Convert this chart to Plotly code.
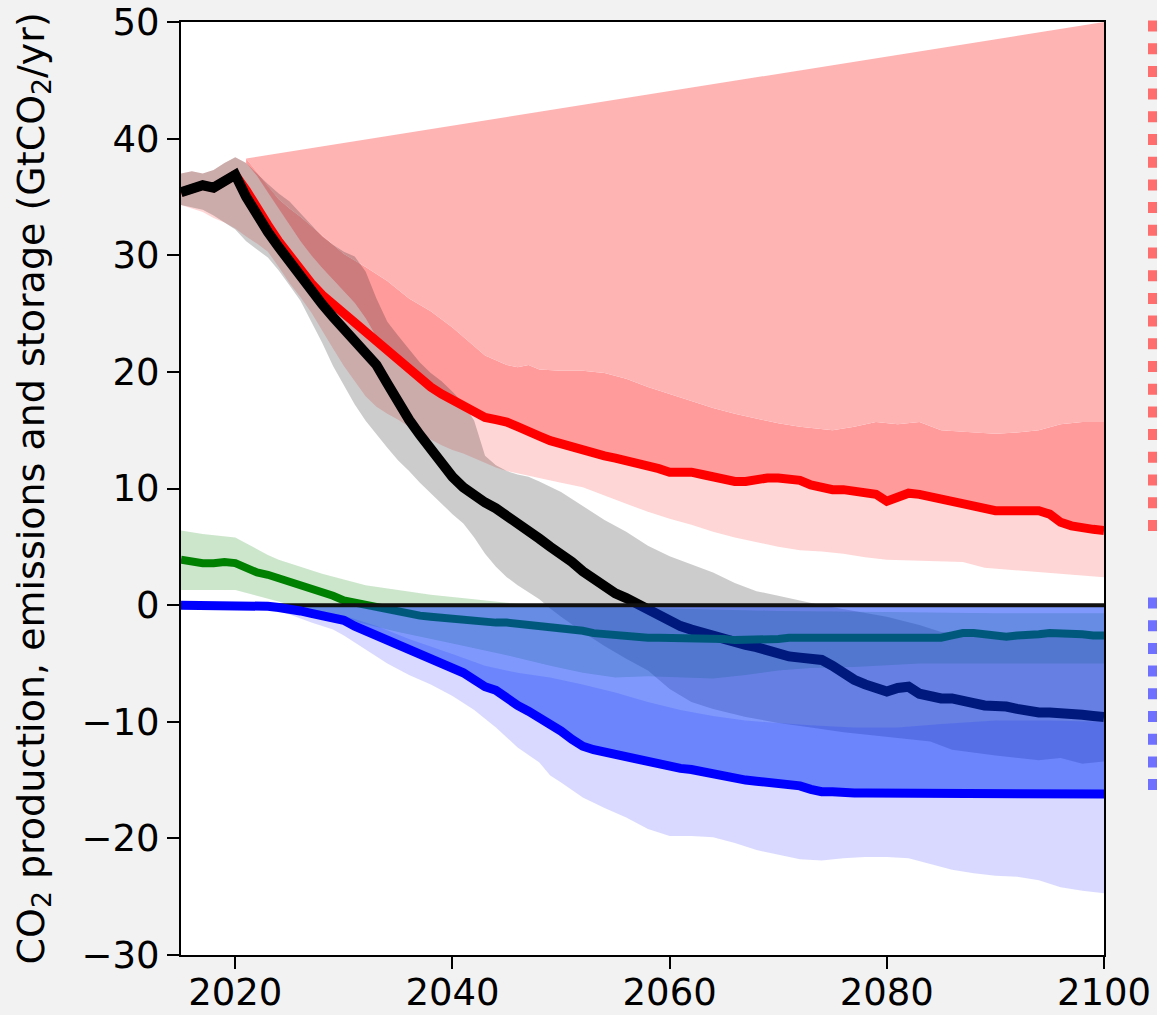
import plotly.graph_objects as go

# ---------------- data ----------------
YEARS = list(range(2015, 2101))

NET = [35.4, 35.8, 36.0, 35.8, 36.3, 36.9, 35.0, 33.3, 32.0, 30.7,
       29.4, 28.2, 27.0, 25.8, 24.7, 23.6, 22.6, 21.6, 20.6, 19.0,
       17.3, 15.9, 14.6, 13.3, 12.1, 11.0, 10.1, 9.4, 8.8, 8.3,
       7.7, 7.0, 6.4, 5.7, 5.0, 4.4, 3.7, 2.9, 2.2, 1.5,
       1.0, 0.6, 0.1, -0.5, -1.0, -1.4, -1.8, -2.1, -2.4, -2.7,
       -3.0, -3.2, -3.4, -3.6, -3.9, -4.2, -4.4, -4.5, -4.6, -4.7,
       -5.2, -5.9, -6.4, -6.8, -7.2, -7.4, -7.1, -7.0, -7.6, -7.9,
       -8.0, -8.0, -8.1, -8.4, -8.6, -8.6, -8.7, -8.9, -9.1, -9.2,
       -9.2, -9.2, -9.2, -9.4, -9.5, -9.6]

PRODUCTION = [35.4, 35.8, 36.0, 35.8, 36.3, 36.9, 35.6, 34.0, 32.6, 31.2,
              29.9, 28.7, 27.6, 26.6, 25.8, 25.0, 24.2, 23.4, 22.6, 21.8,
              21.0, 20.2, 19.4, 18.7, 18.1, 17.6, 17.1, 16.5, 16.1, 15.9,
              15.7, 15.3, 14.8, 14.5, 14.1, 13.8, 13.5, 13.2, 13.0, 12.8,
              12.6, 12.4, 12.2, 12.0, 11.7, 11.4, 11.4, 11.4, 11.2, 11.0,
              10.8, 10.6, 10.6, 10.8, 10.9, 10.9, 10.8, 10.7, 10.3, 10.0,
              9.9, 9.9, 9.8, 9.7, 9.5, 8.9, 9.2, 9.6, 9.5, 9.3,
              9.0, 8.9, 8.7, 8.4, 8.2, 8.1, 8.1, 8.1, 8.1, 8.1,
              7.8, 7.1, 6.8, 6.6, 6.5, 6.4]

LAND = [3.9, 3.7, 3.6, 3.6, 3.7, 3.6, 3.2, 2.8, 2.6, 2.3,
        2.0, 1.8, 1.5, 1.2, 0.8, 0.4, 0.2, 0.0, -0.2, -0.4,
        -0.6, -0.8, -0.9, -1.0, -1.1, -1.2, -1.3, -1.3, -1.4, -1.5,
        -1.5, -1.6, -1.7, -1.8, -1.9, -1.9, -2.0, -2.2, -2.4, -2.5,
        -2.6, -2.7, -2.7, -2.8, -2.8, -2.8, -2.8, -2.9, -2.9, -2.9,
        -2.9, -3.0, -3.0, -3.0, -2.9, -2.9, -2.8, -2.8, -2.8, -2.7,
        -2.7, -2.7, -2.7, -2.7, -2.7, -2.7, -2.7, -2.7, -2.8, -2.8,
        -2.8, -2.6, -2.4, -2.4, -2.5, -2.6, -2.7, -2.6, -2.6, -2.5,
        -2.4, -2.4, -2.4, -2.5, -2.6, -2.6]

STORAGE = [0.0, 0.0, 0.0, 0.0, 0.0, 0.0, 0.0, 0.0, -0.1, -0.2,
           -0.3, -0.5, -0.7, -0.9, -1.0, -1.3, -1.8, -2.2, -2.6, -2.9,
           -3.3, -3.8, -4.3, -4.7, -5.0, -5.3, -5.8, -6.4, -7.0, -7.3,
           -8.0, -8.6, -9.1, -9.6, -10.2, -10.8, -11.5, -12.1, -12.4, -12.6,
           -12.8, -13.0, -13.2, -13.5, -13.7, -13.9, -14.0, -14.1, -14.3, -14.5,
           -14.7, -14.9, -15.0, -15.1, -15.2, -15.3, -15.4, -15.5, -15.8, -16.0,
           -16.0, -16.1, -16.1, -16.1, -16.1, -16.1, -16.1, -16.1, -16.1, -16.1,
           -16.1, -16.2, -16.2, -16.2, -16.2, -16.2, -16.2, -16.2, -16.2, -16.2,
           -16.2, -16.2, -16.2, -16.2, -16.2, -16.2]

# production ranges
RED_Q05_YEARS = [2015, 2016, 2017, 2018, 2019, 2020, 2021, 2022, 2023, 2024, 2025, 2026, 2027, 2028,
                 2029, 2030, 2031, 2032, 2033, 2034, 2035, 2036, 2037, 2038, 2039, 2040, 2041, 2042,
                 2043, 2044, 2045, 2046, 2047, 2048, 2050, 2052, 2054, 2056, 2058, 2060, 2062, 2064,
                 2066, 2068, 2070, 2072, 2074, 2076, 2078, 2080, 2084, 2087, 2089, 2092, 2096, 2100]
RED_Q05 = [34.3, 34.0, 33.7, 33.2, 32.8, 32.3, 31.6, 31.0, 30.3, 29.0, 27.6, 26.4, 25.1, 23.6,
           22.0, 20.5, 19.2, 17.9, 17.0, 16.4, 15.9, 15.3, 14.8, 14.2, 13.7, 13.3, 13.0, 12.6,
           12.2, 11.8, 11.5, 11.3, 11.1, 10.9, 10.5, 10.1, 9.4, 8.7, 8.0, 7.4, 6.9, 6.3,
           5.8, 5.4, 5.0, 4.7, 4.6, 4.4, 4.1, 3.9, 3.8, 3.7, 3.2, 3.0, 2.7, 2.4]

RED_Q25_YEARS = [2015, 2016, 2017, 2018, 2019, 2020, 2021, 2022, 2023, 2024, 2025, 2026, 2027, 2028,
                 2029, 2030, 2031, 2032, 2033, 2034, 2036, 2038, 2040, 2042, 2044, 2046, 2048, 2050,
                 2052, 2054, 2056, 2058, 2060, 2062, 2064, 2066, 2068, 2070, 2072, 2074, 2076, 2078,
                 2080, 2082, 2084, 2086, 2088, 2090, 2094, 2096, 2098, 2100]
RED_Q25 = [37.0, 37.2, 37.0, 37.3, 37.9, 38.4, 37.9, 36.8, 35.5, 34.0, 32.6, 31.2, 30.0, 28.9,
           27.9, 26.9, 25.9, 24.6, 23.0, 21.8, 20.2, 18.7, 17.6, 16.5, 15.9, 15.3, 14.5, 13.8,
           13.2, 12.8, 12.4, 12.0, 11.4, 11.4, 11.0, 10.6, 10.8, 10.9, 10.7, 10.0, 9.9, 9.7,
           8.9, 9.6, 9.3, 8.9, 8.4, 8.1, 8.1, 7.1, 6.6, 6.4]

RED_Q75_YEARS = [2021, 2022, 2023, 2024, 2025, 2026, 2027, 2028, 2029, 2030, 2032, 2034, 2036, 2038,
                 2040, 2041, 2042, 2043, 2044, 2045, 2046, 2047, 2048, 2050, 2052, 2054, 2056, 2058,
                 2060, 2062, 2064, 2066, 2068, 2070, 2072, 2075, 2077, 2079, 2081, 2083, 2085, 2088,
                 2090, 2092, 2094, 2096, 2098, 2100]
RED_Q75 = [38.3, 37.1, 35.9, 34.8, 34.0, 33.3, 32.5, 31.7, 30.9, 30.1, 29.0, 27.8, 26.3, 25.2,
           23.8, 23.0, 22.2, 21.4, 21.0, 20.6, 20.4, 20.6, 20.2, 20.1, 20.1, 19.9, 19.4, 18.7,
           18.1, 17.5, 16.9, 16.4, 16.0, 15.6, 15.3, 15.0, 15.3, 15.7, 15.5, 15.7, 15.0, 14.8,
           14.7, 14.8, 15.0, 15.5, 15.7, 15.7]

RED_MAX_YEARS = [2021, 2100]
RED_MAX = [38.3, 50.0]

# net emissions range
NET_HI_YEARS = [2015, 2016, 2017, 2018, 2019, 2020, 2021, 2022, 2023, 2024, 2025, 2026, 2027, 2028,
                2029, 2030, 2031, 2032, 2033, 2034, 2035, 2036, 2037, 2038, 2039, 2040, 2041, 2042,
                2043, 2044, 2045, 2046, 2047, 2048, 2050, 2052, 2054, 2056, 2058, 2060, 2062, 2064,
                2066, 2068, 2070, 2072, 2074, 2077, 2080, 2083, 2085, 2090, 2095, 2100]
NET_HI = [37.0, 37.2, 37.0, 37.3, 37.9, 38.4, 37.9, 37.0, 36.1, 35.3, 34.6, 33.6, 32.6, 31.6,
          30.9, 30.3, 29.9, 28.6, 26.3, 24.3, 23.1, 21.9, 20.8, 19.9, 19.2, 18.3, 17.3, 15.8,
          12.8, 12.0, 11.5, 11.2, 11.0, 10.6, 9.7, 8.5, 7.3, 6.3, 5.1, 4.2, 3.5, 2.8,
          1.9, 1.2, 0.8, 0.4, 0.0, -0.5, -1.0, -1.7, -2.3, -2.6, -2.7, -2.8]

NET_LO_YEARS = [2015, 2016, 2017, 2018, 2019, 2020, 2021, 2022, 2023, 2024, 2025, 2026, 2027, 2028,
                2029, 2030, 2031, 2032, 2033, 2034, 2035, 2036, 2037, 2038, 2039, 2040, 2041, 2042,
                2043, 2044, 2045, 2046, 2047, 2048, 2049, 2050, 2052, 2054, 2056, 2058, 2060, 2062,
                2064, 2067, 2070, 2073, 2076, 2080, 2084, 2086, 2090, 2094, 2096, 2098, 2100]
NET_LO = [34.3, 34.1, 33.9, 33.4, 32.8, 32.2, 31.2, 30.5, 29.8, 28.7, 27.4, 26.1, 24.3, 22.5,
          20.5, 18.8, 17.2, 15.8, 14.6, 13.5, 12.4, 11.5, 10.5, 9.6, 8.7, 7.8, 7.0, 5.8,
          4.4, 3.3, 2.4, 1.7, 1.1, 0.5, -0.3, -1.0, -2.3, -3.5, -4.6, -5.6, -7.2, -8.3,
          -8.9, -9.6, -10.1, -10.5, -10.9, -11.3, -11.7, -12.4, -12.9, -13.3, -13.1, -13.6, -13.4]

# land-use range
LAND_HI_YEARS = [2015, 2017, 2020, 2021, 2022, 2023, 2024, 2025, 2026, 2028, 2030, 2032, 2035,
                 2038, 2042, 2045, 2048, 2050, 2060, 2070, 2080, 2090, 2100]
LAND_HI = [6.4, 6.1, 5.8, 5.3, 4.8, 4.3, 3.9, 3.6, 3.3, 2.7, 2.2, 1.7, 1.3,
           0.9, 0.5, 0.2, 0.0, -0.1, -0.3, -0.5, -0.6, -0.7, -0.7]
LAND_LO_YEARS = [2015, 2018, 2020, 2021, 2022, 2024, 2026, 2028, 2030, 2035, 2040, 2045, 2049,
                 2052, 2055, 2058, 2061, 2064, 2067, 2070, 2073, 2077, 2083, 2090, 2100]
LAND_LO = [1.3, 1.3, 1.3, 1.1, 0.8, 0.3, -0.2, -0.7, -1.2, -2.3, -3.3, -4.3, -5.2,
           -5.8, -6.2, -6.1, -6.2, -6.3, -6.0, -5.6, -5.4, -5.3, -5.0, -5.0, -5.0]

# storage range
STOR_HI_YEARS = [2015, 2022, 2025, 2028, 2030, 2033, 2036, 2040, 2043, 2046, 2049, 2052, 2055,
                 2058, 2061, 2064, 2067, 2070, 2073, 2077, 2081, 2085, 2090, 2095, 2100]
STOR_HI = [0.0, 0.0, -0.2, -0.6, -0.9, -1.8, -2.9, -4.2, -5.2, -5.8, -6.2, -6.8, -7.5,
           -8.3, -9.0, -9.5, -9.9, -10.1, -10.3, -10.5, -10.5, -10.2, -9.9, -9.9, -10.0]
STOR_LO_YEARS = [2015, 2022, 2023, 2025, 2027, 2029, 2030, 2032, 2034, 2036, 2038, 2040, 2042,
                 2044, 2046, 2048, 2049, 2050, 2052, 2054, 2056, 2058, 2060, 2062, 2064, 2066,
                 2068, 2070, 2072, 2074, 2076, 2078, 2080, 2082, 2084, 2086, 2088, 2090, 2092,
                 2094, 2096, 2098, 2100]
STOR_LO = [0.0, 0.0, -0.3, -0.8, -1.5, -2.1, -2.6, -3.8, -5.0, -6.0, -6.8, -7.8, -9.0,
           -10.5, -12.2, -13.5, -14.6, -15.2, -16.5, -17.4, -18.2, -19.2, -19.8, -19.8, -19.9, -20.4,
           -21.0, -21.4, -21.8, -21.9, -21.7, -21.6, -21.6, -21.7, -22.2, -22.7, -23.0, -23.2, -23.3,
           -23.6, -24.2, -24.5, -24.7]

X_TICKS = [2020, 2040, 2060, 2080, 2100]
Y_TICKS = [-30, -20, -10, 0, 10, 20, 30, 40, 50]
Y_TITLE = "CO<sub>2</sub> production, emissions and storage (GtCO<sub>2</sub>/yr)"

FONT = "DejaVu Sans"


def band(x_hi, y_hi, x_lo, y_lo, color):
    return go.Scatter(
        x=list(x_hi) + list(x_lo)[::-1],
        y=list(y_hi) + list(y_lo)[::-1],
        fill="toself", fillcolor=color, mode="lines",
        line=dict(width=0, color=color), hoverinfo="skip", showlegend=False,
    )


def line(x, y, color, width):
    return go.Scatter(x=x, y=y, mode="lines", line=dict(color=color, width=width),
                      showlegend=False)


fig = go.Figure()

# production ranges (opaque tints)
fig.add_trace(band(RED_Q25_YEARS, RED_Q25, RED_Q05_YEARS, RED_Q05, "#ffd6d6"))
fig.add_trace(band(RED_Q75_YEARS, RED_Q75, RED_Q25_YEARS[6:], RED_Q25[6:], "#ff9b9b"))
fig.add_trace(band(RED_MAX_YEARS, RED_MAX, RED_Q75_YEARS, RED_Q75, "#ffb4b4"))

# translucent ranges
fig.add_trace(band(NET_HI_YEARS, NET_HI, NET_LO_YEARS, NET_LO, "rgba(0,0,0,0.2)"))
fig.add_trace(band(LAND_HI_YEARS, LAND_HI, LAND_LO_YEARS, LAND_LO, "rgba(0,128,0,0.2)"))
fig.add_trace(band(STOR_HI_YEARS, STOR_HI, STOR_LO_YEARS, STOR_LO, "rgba(0,0,255,0.15)"))

# central lines
fig.add_trace(line(YEARS, PRODUCTION, "#ff0000", 9))
fig.add_trace(line(YEARS, NET, "#000000", 10))
fig.add_trace(line(YEARS, LAND, "#008000", 8))

# storage overlay (0 down to storage line)
fig.add_trace(band(YEARS, [0.0] * len(YEARS), YEARS, STORAGE, "rgba(0,50,250,0.5)"))

# zero line
fig.add_trace(line([YEARS[0], YEARS[-1]], [0, 0], "#111111", 4))

# storage line
fig.add_trace(line(YEARS, STORAGE, "#0000ff", 9))


def px_x(px):
    return (px - 181) / 923.0


def px_y(py):
    return (955 - py) / 933.0


# cropped legend markers on the right
fig.add_shape(type="line", xref="paper", yref="paper",
              x0=px_x(1153), x1=px_x(1153), y0=px_y(20.5), y1=px_y(532),
              line=dict(color="#ff6e6e", width=10, dash="11px,11.7px"))
fig.add_shape(type="line", xref="paper", yref="paper",
              x0=px_x(1153), x1=px_x(1153), y0=px_y(597.5), y1=px_y(791),
              line=dict(color="#7070ff", width=10, dash="11px,11.7px"))

fig.add_annotation(text=Y_TITLE, textangle=-90, x=px_x(33), y=0.5,
                   xref="paper", yref="paper", showarrow=False,
                   xanchor="center", yanchor="middle",
                   font=dict(family=FONT, size=38, color="black"))

axis_common = dict(
    showline=True, linecolor="black", linewidth=2, mirror=True,
    ticks="outside", ticklen=12, tickwidth=2, tickcolor="black",
    showgrid=False, zeroline=False, automargin=False,
    ticklabeloverflow="allow",
    tickfont=dict(family=FONT, size=37, color="black"),
)

fig.update_layout(
    width=1157, height=1015, autosize=False,
    margin=dict(l=181, r=53, t=22, b=60, pad=0, autoexpand=False),
    paper_bgcolor="#f2f2f2", plot_bgcolor="white",
    showlegend=False,
    xaxis=dict(range=[2015, 2100], tickvals=X_TICKS, ticklabelstandoff=-8, **axis_common),
    yaxis=dict(range=[-30, 50], tickvals=Y_TICKS, **axis_common),
)

fig.write_html(
    "out.html",
    config={"displayModeBar": False},
    post_script="document.body.style.margin='0';document.body.style.background='#f2f2f2';",
)
